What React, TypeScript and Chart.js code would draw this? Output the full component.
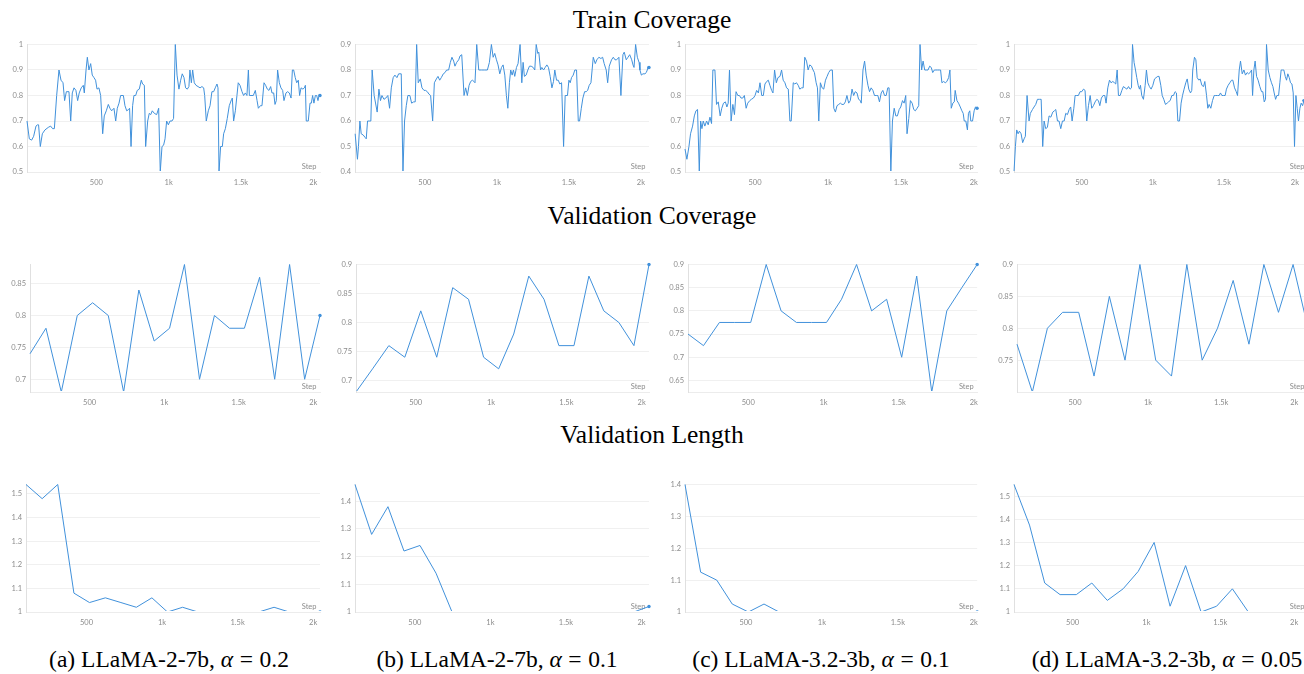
import React, { useEffect, useRef } from 'react';
import { Chart, registerables } from 'chart.js';

Chart.register(...registerables);

// ---------- shared axis ticks ----------
const xTickValues = [500, 1000, 1500, 2000];
const xTickLabels = ['500', '1k', '1.5k', '2k'];

const sectionTitles = ['Train Coverage', 'Validation Coverage', 'Validation Length'];
const captionPrefixes = ['(a) LLaMA-2-7b, ', '(b) LLaMA-2-7b, ', '(c) LLaMA-3.2-3b, ', '(d) LLaMA-3.2-3b, '];
const captionAlphas = ['0.2', '0.1', '0.1', '0.05'];

// ---------- Train Coverage ----------
const trainStepsA = [21,37,53,67,83,94,101,113,127,145,168,184,198,210,226,242,256,270,281,293,311,323,334,346,359,371,382,396,410,417,429,438,449,461,472,484,495,505,518,530,544,555,569,583,594,606,622,634,645,657,668,687,698,710,723,730,740,751,760,772,783,797,811,820,832,841,855,866,876,887,901,917,931,942,954,965,975,986,998,1009,1023,1034,1046,1058,1071,1083,1094,1106,1117,1129,1140,1147,1157,1166,1177,1189,1203,1217,1230,1242,1249,1260,1274,1286,1299,1311,1322,1334,1341,1348,1359,1371,1380,1392,1405,1419,1435,1440,1449,1461,1472,1481,1493,1507,1518,1530,1541,1551,1558,1569,1585,1599,1611,1620,1634,1645,1659,1670,1682,1693,1705,1714,1726,1735,1744,1753,1765,1776,1788,1797,1811,1822,1834,1846,1855,1864,1875,1885,1896,1905,1915,1928,1938,1945,1951,1965,1977,1986,1995,2004,2014,2023,2032,2041,2046];
const trainCoverageA = [0.70,0.63,0.625,0.64,0.68,0.685,0.685,0.60,0.65,0.665,0.675,0.68,0.67,0.67,0.80,0.90,0.86,0.85,0.78,0.815,0.815,0.70,0.81,0.83,0.82,0.78,0.81,0.83,0.84,0.81,0.90,0.95,0.90,0.925,0.88,0.87,0.86,0.825,0.83,0.80,0.65,0.72,0.74,0.765,0.75,0.74,0.75,0.70,0.75,0.77,0.80,0.80,0.76,0.74,0.745,0.75,0.60,0.76,0.80,0.80,0.82,0.825,0.86,0.845,0.84,0.60,0.70,0.73,0.725,0.74,0.73,0.725,0.75,0.50,0.60,0.605,0.63,0.70,0.685,0.70,0.70,0.71,1.00,0.88,0.825,0.86,0.885,0.87,0.83,0.825,0.835,0.90,0.85,0.90,0.85,0.84,0.835,0.83,0.835,0.83,0.80,0.70,0.74,0.76,0.815,0.815,0.83,0.845,0.83,0.50,0.60,0.60,0.65,0.67,0.71,0.76,0.785,0.79,0.70,0.74,0.80,0.85,0.84,0.815,0.80,0.81,0.80,0.90,0.80,0.80,0.80,0.82,0.78,0.75,0.76,0.76,0.85,0.84,0.825,0.82,0.835,0.81,0.81,0.765,0.78,0.90,0.85,0.83,0.82,0.78,0.81,0.815,0.81,0.79,0.90,0.90,0.87,0.85,0.86,0.80,0.83,0.825,0.83,0.84,0.70,0.70,0.77,0.77,0.80,0.77,0.80,0.80,0.78,0.805,0.80];

const trainStepsB = [16,32,39,49,58,72,86,93,102,118,125,134,148,169,181,192,202,216,229,243,255,267,280,292,306,318,336,348,359,371,382,396,408,422,433,443,454,468,480,494,505,517,529,540,554,566,580,591,603,614,628,640,651,665,677,688,700,709,721,735,744,756,772,783,795,807,818,830,841,848,860,874,892,916,934,948,962,974,985,997,1008,1020,1032,1043,1055,1066,1076,1087,1096,1106,1115,1124,1136,1147,1161,1173,1182,1191,1203,1215,1226,1238,1252,1263,1273,1284,1291,1303,1312,1324,1335,1347,1358,1370,1382,1393,1402,1414,1426,1437,1449,1463,1474,1490,1500,1509,1518,1530,1541,1553,1565,1574,1586,1597,1609,1620,1630,1641,1653,1669,1683,1694,1708,1722,1734,1745,1759,1769,1780,1796,1808,1820,1831,1847,1861,1875,1884,1898,1910,1922,1936,1945,1952,1963,1975,1987,1993,2003,2014,2028,2037,2044,2051,2056];
const trainCoverageB = [0.55,0.45,0.50,0.60,0.55,0.545,0.535,0.53,0.60,0.60,0.60,0.80,0.70,0.635,0.725,0.68,0.70,0.685,0.69,0.70,0.65,0.73,0.77,0.78,0.77,0.785,0.785,0.40,0.60,0.66,0.70,0.70,0.67,0.675,0.675,0.90,0.75,0.765,0.73,0.72,0.72,0.715,0.705,0.70,0.60,0.75,0.765,0.775,0.76,0.77,0.785,0.79,0.80,0.80,0.83,0.85,0.835,0.815,0.83,0.84,0.855,0.86,0.70,0.73,0.70,0.74,0.755,0.76,0.755,0.75,0.90,0.80,0.80,0.80,0.80,0.83,0.90,0.85,0.865,0.84,0.82,0.785,0.81,0.82,0.78,0.70,0.65,0.75,0.80,0.78,0.80,0.775,0.81,0.825,0.90,0.75,0.83,0.775,0.78,0.80,0.815,0.815,0.81,0.80,0.90,0.865,0.87,0.80,0.81,0.80,0.81,0.82,0.81,0.775,0.73,0.755,0.80,0.76,0.76,0.745,0.75,0.50,0.70,0.70,0.76,0.75,0.77,0.78,0.80,0.80,0.60,0.60,0.65,0.69,0.715,0.715,0.72,0.74,0.75,0.85,0.825,0.84,0.85,0.845,0.85,0.825,0.80,0.75,0.815,0.84,0.85,0.84,0.84,0.85,0.70,0.86,0.87,0.84,0.85,0.86,0.84,0.82,0.81,0.90,0.85,0.83,0.80,0.78,0.785,0.785,0.79,0.80,0.815,0.81];

const trainStepsC = [20,33,47,58,72,84,95,106,118,127,136,145,156,168,179,191,202,211,225,236,248,261,272,284,297,307,316,325,336,348,359,370,382,393,404,416,427,439,450,464,475,489,500,511,523,534,546,557,568,580,591,602,614,623,634,646,657,671,682,693,705,716,728,739,748,762,773,784,796,807,819,830,841,853,864,875,887,898,907,919,928,937,948,960,971,983,994,1005,1017,1030,1040,1051,1062,1074,1085,1096,1108,1119,1130,1142,1153,1165,1176,1187,1199,1210,1222,1228,1240,1251,1262,1274,1285,1296,1308,1319,1331,1342,1353,1365,1376,1388,1399,1410,1419,1431,1442,1454,1465,1476,1488,1499,1511,1522,1533,1542,1554,1565,1577,1588,1599,1611,1622,1631,1642,1652,1663,1674,1686,1697,1708,1718,1729,1740,1752,1763,1772,1781,1793,1804,1815,1827,1836,1845,1856,1866,1872,1884,1895,1907,1918,1927,1934,1945,1956,1963,1972,1979,1991,2002,2011,2022];
const trainCoverageC = [0.59,0.55,0.60,0.65,0.68,0.72,0.74,0.745,0.50,0.70,0.67,0.70,0.68,0.70,0.685,0.715,0.69,0.90,0.90,0.765,0.775,0.72,0.75,0.77,0.775,0.755,0.77,0.90,0.70,0.765,0.725,0.815,0.80,0.80,0.79,0.79,0.80,0.75,0.77,0.78,0.785,0.79,0.80,0.82,0.81,0.85,0.80,0.80,0.845,0.855,0.86,0.84,0.82,0.81,0.90,0.85,0.87,0.875,0.90,0.86,0.85,0.83,0.825,0.70,0.70,0.85,0.845,0.85,0.84,0.825,0.83,0.83,0.95,0.935,0.90,0.92,0.915,0.90,0.89,0.85,0.83,0.70,0.85,0.83,0.825,0.86,0.875,0.89,0.90,0.90,0.75,0.735,0.76,0.765,0.77,0.765,0.765,0.775,0.80,0.77,0.78,0.825,0.80,0.815,0.81,0.785,0.78,0.77,0.90,0.935,0.88,0.84,0.815,0.83,0.82,0.80,0.80,0.80,0.775,0.81,0.82,0.80,0.80,0.83,0.83,0.50,0.70,0.75,0.72,0.72,0.745,0.755,0.78,0.77,0.80,0.65,0.71,0.78,0.77,0.745,0.74,0.75,0.76,1.00,0.90,0.935,0.90,0.90,0.90,0.915,0.91,0.89,0.90,0.90,0.90,0.90,0.90,0.85,0.855,0.85,0.855,0.87,0.90,0.75,0.77,0.775,0.82,0.78,0.77,0.755,0.74,0.73,0.70,0.70,0.665,0.73,0.74,0.70,0.70,0.74,0.755,0.75];

const trainStepsD = [23,33,42,52,61,73,84,94,103,115,129,138,153,164,176,188,202,214,225,235,246,258,270,282,296,307,317,329,340,352,364,376,387,399,411,422,432,444,453,465,476,488,500,512,523,535,547,559,570,582,594,606,617,627,638,650,662,671,683,695,706,718,730,739,749,758,770,782,793,805,817,829,840,850,857,868,878,887,897,906,913,922,934,946,955,965,976,988,1000,1012,1023,1035,1044,1056,1066,1077,1089,1101,1110,1122,1134,1145,1157,1166,1176,1188,1199,1209,1220,1232,1242,1253,1265,1274,1281,1293,1303,1312,1324,1333,1345,1357,1366,1378,1387,1396,1408,1420,1432,1443,1455,1467,1476,1486,1497,1509,1518,1530,1542,1554,1563,1575,1587,1596,1608,1617,1629,1641,1652,1664,1673,1685,1695,1702,1711,1720,1730,1741,1753,1765,1774,1784,1793,1800,1812,1824,1835,1845,1854,1864,1873,1885,1894,1903,1913,1922,1932,1941,1950,1960,1969,1979,1988,1997,2007,2016,2025,2035,2044,2054,2063];
const trainCoverageD = [0.50,0.60,0.665,0.65,0.66,0.65,0.615,0.63,0.64,0.80,0.70,0.73,0.745,0.755,0.765,0.785,0.785,0.785,0.60,0.70,0.67,0.675,0.72,0.715,0.735,0.74,0.745,0.70,0.70,0.67,0.70,0.70,0.73,0.725,0.745,0.755,0.70,0.75,0.80,0.80,0.80,0.815,0.815,0.825,0.82,0.70,0.76,0.80,0.75,0.76,0.775,0.785,0.78,0.76,0.79,0.80,0.80,0.77,0.83,0.86,0.85,0.855,0.85,0.845,0.90,0.80,0.80,0.82,0.835,0.83,0.825,0.835,0.825,0.83,1.00,0.93,0.90,0.87,0.84,0.825,0.84,0.80,0.785,0.84,0.90,0.85,0.835,0.825,0.84,0.865,0.87,0.875,0.875,0.84,0.80,0.785,0.765,0.77,0.775,0.78,0.80,0.80,0.815,0.81,0.70,0.70,0.77,0.80,0.825,0.85,0.865,0.825,0.81,0.82,0.90,0.95,0.94,0.87,0.86,0.865,0.84,0.835,0.855,0.80,0.75,0.765,0.75,0.78,0.80,0.80,0.80,0.80,0.81,0.80,0.80,0.80,0.825,0.84,0.85,0.86,0.86,0.83,0.815,0.80,0.90,0.935,0.885,0.90,0.88,0.89,0.885,0.89,0.90,0.80,0.90,0.935,0.875,0.86,0.835,0.815,0.815,0.775,0.785,1.00,0.90,0.87,0.85,0.835,0.81,0.785,0.80,0.80,0.85,0.90,0.90,0.90,0.875,0.86,0.885,0.87,0.85,0.845,0.81,0.60,0.80,0.75,0.70,0.75,0.77,0.76,0.78];

// ---------- Validation (evaluation steps per run) ----------
const evalStepsA = [100, 207, 310, 417, 520, 625, 728, 830, 933, 1036, 1136, 1237, 1337, 1438, 1538, 1640, 1741, 1841, 1942, 2045];
const evalStepsB = [104, 214, 322, 428, 534, 640, 746, 851, 951, 1051, 1151, 1251, 1352, 1451, 1551, 1650, 1749, 1849, 1949, 2049];
const evalStepsC = [99, 202, 308, 410, 516, 619, 718, 820, 920, 1020, 1120, 1220, 1320, 1420, 1520, 1620, 1720, 1820, 1920, 2022];
const evalStepsD = [103, 208, 311, 415, 525, 630, 735, 842, 944, 1052, 1160, 1265, 1370, 1475, 1582, 1690, 1792, 1892, 1992, 2094];

const valCoverageA = [0.74, 0.78, 0.68, 0.80, 0.82, 0.80, 0.68, 0.84, 0.76, 0.78, 0.88, 0.70, 0.80, 0.78, 0.78, 0.86, 0.70, 0.88, 0.70, 0.80];
const valCoverageB = [0.68, 0.72, 0.76, 0.74, 0.82, 0.74, 0.86, 0.84, 0.74, 0.72, 0.78, 0.88, 0.84, 0.76, 0.76, 0.88, 0.82, 0.80, 0.76, 0.90];
const valCoverageC = [0.75, 0.725, 0.775, 0.775, 0.775, 0.90, 0.80, 0.775, 0.775, 0.775, 0.825, 0.90, 0.80, 0.825, 0.70, 0.875, 0.625, 0.80, 0.85, 0.90];
const valCoverageD = [0.775, 0.70, 0.80, 0.825, 0.825, 0.725, 0.85, 0.75, 0.90, 0.75, 0.725, 0.90, 0.75, 0.80, 0.875, 0.775, 0.90, 0.825, 0.90, 0.80];

const valLengthA = [1.54, 1.48, 1.54, 1.08, 1.04, 1.06, 1.04, 1.02, 1.06, 1.00, 1.02, 1.00, 1.00, 1.00, 1.00, 1.00, 1.02, 1.00, 1.00, 1.00];
const valLengthB = [1.46, 1.28, 1.38, 1.22, 1.24, 1.14, 1.00, 1.00, 1.00, 1.00, 1.00, 1.00, 1.00, 1.00, 1.00, 1.00, 1.00, 1.00, 1.00, 1.02];
const valLengthC = [1.40, 1.125, 1.10, 1.025, 1.00, 1.025, 1.00, 1.00, 1.00, 1.00, 1.00, 1.00, 1.00, 1.00, 1.00, 1.00, 1.00, 1.00, 1.00, 1.00];
const valLengthD = [1.55, 1.375, 1.125, 1.075, 1.075, 1.125, 1.05, 1.10, 1.175, 1.30, 1.025, 1.20, 1.00, 1.025, 1.10, 1.00, 1.00, 1.00, 1.00, 1.00];

// ---------- y-axis ticks / ranges ----------
const trainYTicksACD = [0.5, 0.6, 0.7, 0.8, 0.9, 1];
const trainYTicksB = [0.4, 0.5, 0.6, 0.7, 0.8, 0.9];
const valCovYTicksA = [0.7, 0.75, 0.8, 0.85];
const valCovYTicksB = [0.7, 0.75, 0.8, 0.85, 0.9];
const valCovYTicksC = [0.65, 0.7, 0.75, 0.8, 0.85, 0.9];
const valCovYTicksD = [0.75, 0.8, 0.85, 0.9];
const valLenYTicksAD = [1, 1.1, 1.2, 1.3, 1.4, 1.5];
const valLenYTicksBC = [1, 1.1, 1.2, 1.3, 1.4];

const trainYRanges = [[0.5, 1], [0.4, 0.9], [0.5, 1], [0.5, 1]];
const valCovYRanges = [[0.68, 0.88], [0.68, 0.9], [0.625, 0.9], [0.7, 0.9]];
const valLenYRanges = [[1, 1.54], [1, 1.46], [1, 1.4], [1, 1.55]];
const trainXRanges = [[21, 2046], [15, 2056], [20, 2023], [23, 2092]];
const valXRanges = [[100, 2045], [104, 2049], [99, 2022], [103, 2094]];

// ---------- layout ----------
const COL_ORIGIN = [0, 328, 658, 985];
const CHART_RIGHT = [320, 649, 978, 1308];
const ROW_TOP = [44, 264, 484];
const CHART_LEFT = [
  [27, 355, 685, 1014],
  [30, 356, 688, 1017],
  [26, 355, 685, 1014],
];
const PLOT_H = 128;
const PAD_T = 8;
const PAD_B = 22;
const PAD_R = 6;

const LINE_COLOR = '#4191db';
const TICK_COLOR = '#8c8c8c';
const TICK_FONT = { family: 'Lato, "Open Sans", sans-serif', size: 7.5 };

type PanelSpec = {
  row: number;
  col: number;
  steps: number[];
  values: number[];
  yTicks: number[];
  yRange: number[];
  xRange: number[];
};

const panels: PanelSpec[] = [
  { row: 0, col: 0, steps: trainStepsA, values: trainCoverageA, yTicks: trainYTicksACD, yRange: trainYRanges[0], xRange: trainXRanges[0] },
  { row: 0, col: 1, steps: trainStepsB, values: trainCoverageB, yTicks: trainYTicksB, yRange: trainYRanges[1], xRange: trainXRanges[1] },
  { row: 0, col: 2, steps: trainStepsC, values: trainCoverageC, yTicks: trainYTicksACD, yRange: trainYRanges[2], xRange: trainXRanges[2] },
  { row: 0, col: 3, steps: trainStepsD, values: trainCoverageD, yTicks: trainYTicksACD, yRange: trainYRanges[3], xRange: trainXRanges[3] },
  { row: 1, col: 0, steps: evalStepsA, values: valCoverageA, yTicks: valCovYTicksA, yRange: valCovYRanges[0], xRange: valXRanges[0] },
  { row: 1, col: 1, steps: evalStepsB, values: valCoverageB, yTicks: valCovYTicksB, yRange: valCovYRanges[1], xRange: valXRanges[1] },
  { row: 1, col: 2, steps: evalStepsC, values: valCoverageC, yTicks: valCovYTicksC, yRange: valCovYRanges[2], xRange: valXRanges[2] },
  { row: 1, col: 3, steps: evalStepsD, values: valCoverageD, yTicks: valCovYTicksD, yRange: valCovYRanges[3], xRange: valXRanges[3] },
  { row: 2, col: 0, steps: evalStepsA, values: valLengthA, yTicks: valLenYTicksAD, yRange: valLenYRanges[0], xRange: valXRanges[0] },
  { row: 2, col: 1, steps: evalStepsB, values: valLengthB, yTicks: valLenYTicksBC, yRange: valLenYRanges[1], xRange: valXRanges[1] },
  { row: 2, col: 2, steps: evalStepsC, values: valLengthC, yTicks: valLenYTicksBC, yRange: valLenYRanges[2], xRange: valXRanges[2] },
  { row: 2, col: 3, steps: evalStepsD, values: valLengthD, yTicks: valLenYTicksAD, yRange: valLenYRanges[3], xRange: valXRanges[3] },
];

const stepLabelPlugin = {
  id: 'stepLabel',
  beforeDatasetsDraw(chart: any) {
    const { ctx, chartArea } = chart;
    ctx.save();
    ctx.font = '7.5px Lato, "Open Sans", sans-serif';
    ctx.fillStyle = TICK_COLOR;
    ctx.textAlign = 'right';
    ctx.textBaseline = 'alphabetic';
    ctx.fillText('Step', chartArea.right - 3.5, chartArea.bottom - 3.5);
    ctx.restore();
  },
};

function Panel({ spec }: { spec: PanelSpec }) {
  const ref = useRef<HTMLCanvasElement>(null);
  const originX = COL_ORIGIN[spec.col];
  const chartLeft = CHART_LEFT[spec.row][spec.col];
  const yAxisW = chartLeft - originX;
  const width = CHART_RIGHT[spec.col] + PAD_R - originX;
  const height = PAD_T + PLOT_H + PAD_B;
  const top = ROW_TOP[spec.row] - PAD_T;

  useEffect(() => {
    if (!ref.current) return;
    const n = spec.steps.length;
    const chart = new Chart(ref.current, {
      type: 'line',
      data: {
        datasets: [
          {
            data: spec.steps.map((s, i) => ({ x: s, y: spec.values[i] })),
            borderColor: LINE_COLOR,
            backgroundColor: LINE_COLOR,
            borderWidth: 1,
            tension: 0,
            pointRadius: (ctx: any) => (ctx.dataIndex === n - 1 ? 1.7 : 0),
            pointHoverRadius: 0,
            pointBorderWidth: 0,
            pointBackgroundColor: LINE_COLOR,
            clip: { left: 1, top: 2, right: 3, bottom: -1 } as any,
          },
        ],
      },
      options: {
        animation: false,
        responsive: false,
        maintainAspectRatio: false,
        devicePixelRatio: 1,
        events: [],
        layout: { padding: { top: PAD_T, right: PAD_R, left: 0, bottom: 0 } },
        plugins: { legend: { display: false }, tooltip: { enabled: false }, title: { display: false } },
        scales: {
          x: {
            type: 'linear',
            bounds: 'data',
            min: spec.xRange[0],
            max: spec.xRange[1],
            afterBuildTicks: (scale: any) => {
              scale.ticks = xTickValues.map((v) => ({ value: v }));
            },
            afterFit: (scale: any) => {
              scale.height = PAD_B;
            },
            ticks: {
              autoSkip: false,
              maxRotation: 0,
              padding: 6,
              color: TICK_COLOR,
              font: TICK_FONT,
              callback: (v: any) => {
                const i = xTickValues.indexOf(Number(v));
                return i >= 0 ? xTickLabels[i] : '';
              },
            },
            grid: { display: false, drawTicks: false },
            border: { display: true, color: '#ececec', width: 1 },
          },
          y: {
            type: 'linear',
            bounds: 'data',
            min: spec.yRange[0],
            max: spec.yRange[1],
            afterBuildTicks: (scale: any) => {
              scale.ticks = spec.yTicks.map((v) => ({ value: v }));
            },
            afterFit: (scale: any) => {
              scale.width = yAxisW;
            },
            ticks: {
              autoSkip: false,
              padding: 4,
              color: TICK_COLOR,
              font: TICK_FONT,
              callback: (v: any) => String(v),
            },
            grid: { color: '#f0f0f0', drawTicks: false, lineWidth: 1 },
            border: { display: true, color: '#e0e0e0', width: 1 },
          },
        },
      } as any,
      plugins: [stepLabelPlugin],
    });
    return () => chart.destroy();
  }, []);

  return (
    <canvas
      ref={ref}
      width={width}
      height={height}
      style={{ position: 'absolute', left: originX, top, width, height, display: 'block' }}
    />
  );
}

const SERIF = '"Liberation Serif", "Times New Roman", Times, serif';
const TITLE_TOPS = [7, 203, 422];
const CAPTION_CENTERS = [169, 497, 821, 1167];

export default function App() {
  useEffect(() => {
    document.body.style.margin = '0';
  }, []);
  return (
    <div
      style={{
        position: 'absolute',
        left: 0,
        top: 0,
        width: 1304,
        height: 674,
        overflow: 'hidden',
        background: '#ffffff',
      }}
    >
      {sectionTitles.map((t, i) => (
        <div
          key={t}
          style={{
            position: 'absolute',
            left: 0,
            top: TITLE_TOPS[i],
            width: 1304,
            textAlign: 'center',
            fontFamily: SERIF,
            fontSize: 25.5,
            lineHeight: '25.5px',
            color: '#000',
            whiteSpace: 'nowrap',
          }}
        >
          {t}
        </div>
      ))}
      {panels.map((p) => (
        <Panel key={`${p.row}-${p.col}`} spec={p} />
      ))}
      {captionPrefixes.map((c, i) => (
        <div
          key={c}
          style={{
            position: 'absolute',
            left: CAPTION_CENTERS[i],
            top: 648,
            transform: 'translateX(-50%)',
            fontFamily: SERIF,
            fontSize: 23.5,
            lineHeight: '23.5px',
            color: '#000',
            whiteSpace: 'nowrap',
          }}
        >
          {c}
          <i>α</i>
          <span style={{ margin: '0 0.28em' }}>=</span>
          {captionAlphas[i]}
        </div>
      ))}
    </div>
  );
}
